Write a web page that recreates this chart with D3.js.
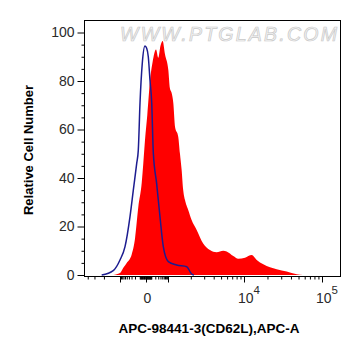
<!DOCTYPE html>
<html><head><meta charset="utf-8">
<script src="https://cdn.jsdelivr.net/npm/d3@7"></script>
<style>
html,body{margin:0;padding:0;background:#fff;}
svg{display:block;font-family:"Liberation Sans",Arial,sans-serif;}
</style></head>
<body>
<svg id="c" width="361" height="356"></svg>
<script>
// ---- data (fluorescence value, relative count) ----
const blueX = [-2200,-1340,-1000,-600,-355,-245,-160,-127,-95,-57,-15,12,41,73,109,146,244,376,568,1010,1300,1770,2050,2200];
const blueY = [0,1.8,6.2,11.7,24.1,35,46,51.5,71,87.3,94.4,93.5,90,80.4,71,50.5,37.5,24,11.7,5.5,4.1,3.4,0.4,0];
const redX = [-1340,-1000,-715,-504,-295,-200,-127,-66,-41,-15,23,73,131,221,302,401,527,697,1010,1060,1120,1175,1240,1366,1440,1515,1590,1675,1850,2050,2390,2910,3570,4370,5340,5920,7230,8410,10300,12550,14550,17680,26250,35250,47300,57000];
const redY = [0,0.8,3,5,8.5,15,28,38,46,55.7,66,80,88,93,89.6,94.5,96.5,91,84.5,77,75,71,61,57,50,43.3,35,31,26.8,22.7,18.6,13,10.3,9.4,10,9.7,7.8,6.7,7.1,8.2,6.2,4.4,2.4,1.4,0.3,0];
const yTicks = [0,20,40,60,80,100];
const xMajor = [-1000,0,1000,10000,100000];
const xLabels = [{v:0,base:"0",sup:""},{v:10000,base:"10",sup:"4"},{v:100000,base:"10",sup:"5"}];
const xTitle = "APC-98441-3(CD62L),APC-A";
const yTitle = "Relative Cell Number";
const watermark = "WWW.PTGLAB.COM";

// minor ticks
const xMinor = [];
[-4000,-3000,-2000].forEach(v=>xMinor.push(v));
for(let i=1;i<10;i++){xMinor.push(-i*100, i*100, -i*10, i*10, i*1000, i*10000);}
const yMinor = d3.range(0,105,5).filter(v=>v%20!==0);

// ---- scales ----
const T = v => Math.asinh(v/150)/Math.LN10;   // biexponential-like transform
const xAnchorVals = [-4500,-1000,0,1000,10000,100000];
const xLin = d3.scaleLinear().domain(xAnchorVals.map(T)).range([85,120,146,168,244,322]);
const x = v => xLin(T(v));
const y = d3.scaleLinear().domain([0,100]).range([275,32.5]);

const L=84.5, R=340.5, TOP=20.5, BOT=276.5;
const svg = d3.select("#c");

// watermark
svg.append("text").attr("x",120).attr("y",40.5)
  .attr("textLength",217).attr("lengthAdjust","spacing")
  .style("font-size","19.5px").style("font-style","italic")
  .attr("fill","#f5f5f5").attr("stroke","#c8c8c8").attr("stroke-width",0.7)
  .text(watermark);

// red filled histogram
const red = redX.map((v,i)=>[v,redY[i]]);
svg.append("path").datum(red)
  .attr("d", d3.area().x(d=>x(d[0])).y0(y(0)).y1(d=>y(d[1])).curve(d3.curveMonotoneX))
  .attr("fill","#ff0000");

// blue line
const blue = blueX.map((v,i)=>[v,blueY[i]]);
svg.append("path").datum(blue)
  .attr("d", d3.line().x(d=>x(d[0])).y(d=>y(d[1])).curve(d3.curveMonotoneX))
  .attr("fill","none").attr("stroke","#1c1c90").attr("stroke-width",1.5);

// frame
svg.append("rect").attr("x",L).attr("y",TOP).attr("width",R-L).attr("height",BOT-TOP)
  .attr("fill","none").attr("stroke","#000").attr("stroke-width",1);

// y axis
const gy = svg.append("g").attr("transform",`translate(${L},0)`);
gy.call(d3.axisLeft(y).tickValues(yTicks).tickSize(7).tickPadding(3));
gy.append("g").call(d3.axisLeft(y).tickValues(yMinor).tickSize(3).tickFormat(""));
gy.selectAll(".domain").remove();
gy.selectAll("text").style("font-size","14px").style("font-family","Liberation Sans, Arial").attr("fill","#2a2a2a");

// x axis
const gx = svg.append("g").attr("transform",`translate(0,${BOT})`);
gx.call(d3.axisBottom(xLin).tickValues(xMajor.map(T)).tickSize(6).tickFormat(""));
gx.append("g").call(d3.axisBottom(xLin).tickValues(xMinor.map(T)).tickSize(3).tickFormat(""));
gx.selectAll(".domain").remove();

const lab = svg.append("g").style("font-size","14px").attr("fill","#2a2a2a");
xLabels.forEach(d=>{
  const t = lab.append("text").attr("x", x(d.v) + (d.sup? 5:1.5)).attr("y",302.5).attr("text-anchor","middle");
  t.append("tspan").text(d.base);
  if(d.sup) t.append("tspan").attr("dy",-9).style("font-size","11.5px").text(d.sup);
});

// titles
svg.append("text").attr("x",209).attr("y",332.5).attr("text-anchor","middle")
  .style("font-size","13.5px").style("font-weight","bold").text(xTitle);
svg.append("text").attr("transform","translate(32.5,150) rotate(-90)").attr("text-anchor","middle")
  .style("font-size","13px").style("font-weight","bold").text(yTitle);
</script>
</body></html>
